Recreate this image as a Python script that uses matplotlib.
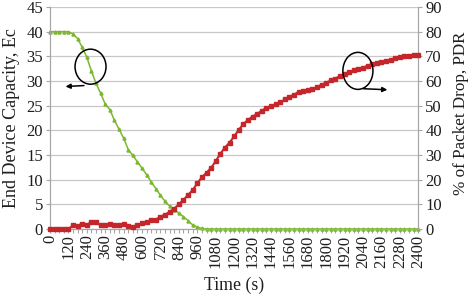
import numpy as np
import matplotlib
matplotlib.use("Agg")
import matplotlib.pyplot as plt
from matplotlib.patches import Ellipse

plt.rcParams['font.family'] = ['Liberation Serif', 'DejaVu Serif']

# time axis, one sample every 30 s
time_s = np.arange(0, 2401, 30)

# End Device Capacity, Ec (left axis)
capacity = [40, 40, 40, 40, 40, 39.5, 38.6, 36.8, 34.8, 32.0, 29.5, 27.5, 25.3, 24.2, 22.0,
            20.2, 18.4, 16.1, 14.9, 13.6, 12.3, 11.0, 9.5, 8.2, 6.8, 5.6, 4.6, 3.9, 3.2, 2.5,
            1.7, 0.8, 0.4, 0.1] + [0] * 47

# % of Packet Drop, PDR (right axis)
pdr = [0, 0, 0, 0, 0, 1.5, 1.2, 2.2, 1.8, 2.7, 2.8, 1.5, 1.5, 2.0, 1.5, 1.6, 2.2, 1.2, 1.0,
       1.5, 2.4, 2.7, 3.5, 3.8, 5.0, 5.8, 7.0, 8.3, 10.0, 11.8, 13.8, 15.8, 18.5, 21.0, 22.8,
       24.8, 27.5, 30.5, 33.0, 35.0, 37.5, 40.2, 42.5, 44.2, 45.6, 46.6, 48.0, 49.0, 49.8,
       50.6, 51.3, 52.5, 53.5, 54.5, 55.5, 56.0, 56.4, 56.7, 57.5, 58.5, 59.3, 60.2, 61.0,
       62.0, 62.8, 63.6, 64.3, 64.8, 65.4, 66.2, 66.8, 67.3, 67.7, 68.2, 68.7, 69.2, 69.8,
       70.2, 70.3, 70.4, 70.5]

left_ticks = np.arange(0, 46, 5)
right_ticks = np.arange(0, 91, 10)

green = '#7BB82E'
red = '#C4262B'
grey = '#A6A6A6'
txt = '#1e1e1e'

fig = plt.figure(figsize=(4.72, 2.96), dpi=100)
ax = fig.add_axes([0.106, 0.2264, 0.780, 0.750])
ax2 = ax.twinx()

ax.plot(time_s, capacity, color=green, lw=1.1, marker='^', ms=2.2, clip_on=False, zorder=3)
ax2.plot(time_s, pdr, color=red, lw=1.5, marker='s', ms=3.2, clip_on=False, zorder=3)

ax.set_xlim(0, 2400)
ax.set_ylim(0, 45)
ax2.set_ylim(0, 90)
ax.set_yticks(left_ticks)
ax2.set_yticks(right_ticks)
ax.set_xticks(time_s)
ax.set_xticklabels([str(t) if t % 120 == 0 else '' for t in time_s], rotation=90)

ax.grid(axis='y', color='#C8C8C8', lw=0.9)
ax.set_axisbelow(True)
for a in (ax, ax2):
    for s in a.spines.values():
        s.set_color(grey)
    a.spines['top'].set_visible(False)
    a.tick_params(colors=grey, labelcolor=txt, labelsize=12, length=3, width=0.8, pad=2)
ax.tick_params(axis='x', pad=1)

ax.set_ylabel('End Device Capacity, Ec', fontsize=13, color=txt)
ax2.set_ylabel('% of Packet Drop, PDR', fontsize=12.3, color=txt)
ax.set_xlabel('Time (s)', fontsize=12.8, color=txt)
ax.yaxis.set_label_coords(-0.104, 0.5)
ax2.yaxis.set_label_coords(1.117, 0.52)
ax.xaxis.set_label_coords(0.5, -0.252)
ax.xaxis.label.set_va('center')
ax.yaxis.label.set_va('center')
ax2.yaxis.label.set_va('center')

# annotation circles with arrows pointing to the axis of each series
ax2.add_patch(Ellipse((264, 65.8), 202, 14.2, fill=False, ec='black', lw=1.1, zorder=5))
ax2.annotate('', xy=(83, 57.7), xytext=(239, 58.2),
             arrowprops=dict(arrowstyle='-|>', color='black', lw=1.1, mutation_scale=7))
ax2.add_patch(Ellipse((2007, 64.1), 196, 15.0, fill=False, ec='black', lw=1.1, zorder=5))
ax2.annotate('', xy=(2217, 56.4), xytext=(2026, 56.9),
             arrowprops=dict(arrowstyle='-|>', color='black', lw=1.1, mutation_scale=7))

fig.savefig('out.png', dpi=100)
